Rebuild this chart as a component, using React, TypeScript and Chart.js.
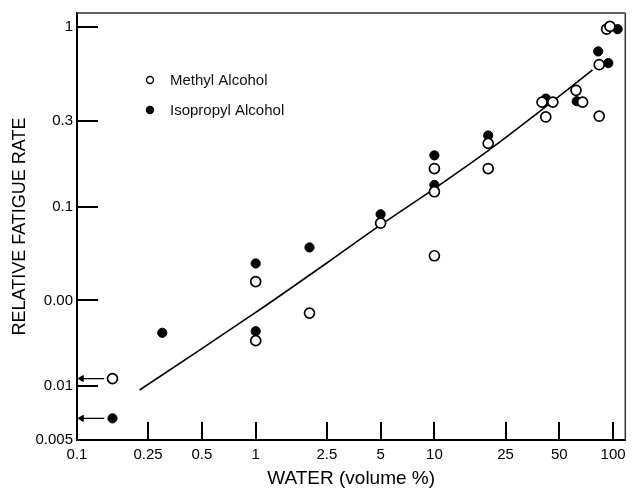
import React, { useEffect, useRef } from "react";
import { Chart, registerables } from "chart.js";

Chart.register(...registerables);

// ---- data ----
const methylX = [0.158, 1, 1, 2, 5, 10, 10, 10, 20, 20, 40, 42, 46, 62, 67.5, 83.6, 83.6, 92, 96];
const methylY = [0.011, 0.0382, 0.0179, 0.0255, 0.0808, 0.163, 0.121, 0.0532, 0.225, 0.163, 0.382, 0.316, 0.382, 0.445, 0.382, 0.319, 0.618, 0.975, 1.01];

const isoX = [0.158, 0.3, 1, 1, 2, 5, 10, 10, 20, 42, 62.6, 82.5, 94, 106];
const isoY = [0.0066, 0.0198, 0.0482, 0.0202, 0.0592, 0.0906, 0.193, 0.132, 0.249, 0.4, 0.387, 0.733, 0.631, 0.975];

const fitX = [0.224, 1, 2.5, 5, 10, 20, 40, 76.7];
const fitY = [0.0095, 0.0257, 0.0485, 0.079, 0.126, 0.205, 0.347, 0.578];

// arrows pointing to the axis for off-scale points (tip, tail) in x units
const arrowX = [0.106, 0.142];

const xTicks = [0.1, 0.25, 0.5, 1, 2.5, 5, 10, 25, 50, 100];
const xTickLabels = ["0.1", "0.25", "0.5", "1", "2.5", "5", "10", "25", "50", "100"];
const yTicks = [0.005, 0.01, 0.03, 0.1, 0.3, 1];
const yTickLabels = ["0.005", "0.01", "0.00", "0.1", "0.3", "1"];

const xTitle = "WATER (volume %)";
const yTitle = "RELATIVE FATIGUE RATE";
const seriesNames = ["Methyl Alcohol", "Isopropyl Alcohol"];

const FONT = "'Liberation Sans', Arial, 'DejaVu Sans', sans-serif";

const frameTicksPlugin = {
  id: "frameTicks",
  afterDraw(chart: any) {
    const { ctx, chartArea } = chart;
    const { left, right, top, bottom } = chartArea;
    const xs = chart.scales.x;
    const ys = chart.scales.y;
    const line = (x1: number, y1: number, x2: number, y2: number) => {
      ctx.beginPath();
      ctx.moveTo(x1, y1);
      ctx.lineTo(x2, y2);
      ctx.stroke();
    };
    ctx.save();
    ctx.strokeStyle = "#000";
    ctx.lineWidth = 2;
    xTicks.slice(1).forEach((v) => {
      const px = Math.round(xs.getPixelForValue(v));
      line(px, bottom, px, bottom - 18);
    });
    yTicks.slice(1).forEach((v) => {
      const py = Math.round(ys.getPixelForValue(v));
      line(left, py, left + 21, py);
    });
    ctx.strokeStyle = "#333";
    ctx.lineWidth = 1.5;
    line(left, top, right, top);
    line(right, top, right, bottom);
    ctx.restore();
  },
};

const insideLegendPlugin = {
  id: "insideLegend",
  afterDatasetsDraw(chart: any) {
    const { ctx, chartArea } = chart;
    const mx = chartArea.left + 73;
    const tx = chartArea.left + 93;
    let y = chartArea.top + 67;
    ctx.save();
    ctx.font = `15px ${FONT}`;
    ctx.textBaseline = "middle";
    ctx.textAlign = "left";
    chart.data.datasets.slice(0, 2).forEach((ds: any) => {
      ctx.beginPath();
      ctx.arc(mx, y, 3.5, 0, Math.PI * 2);
      ctx.fillStyle = ds.pointBackgroundColor;
      ctx.fill();
      ctx.lineWidth = 1.4;
      ctx.strokeStyle = "#000";
      ctx.stroke();
      ctx.fillStyle = "#111";
      ctx.fillText(ds.label, tx, y + 1);
      y += 30;
    });
    ctx.restore();
  },
};

export default function App() {
  const ref = useRef<HTMLCanvasElement>(null);

  useEffect(() => {
    const canvas = ref.current;
    if (!canvas) return;
    Chart.defaults.font.family = FONT;
    const arrowData = (yv: number) => arrowX.map((x) => ({ x, y: yv }));
    const arrowDs = (yv: number) => ({
      label: "arrow",
      data: arrowData(yv),
      showLine: true,
      borderColor: "#000",
      borderWidth: 1.3,
      pointStyle: ["triangle", "circle"],
      pointRadius: [3.5, 0],
      pointRotation: [-90, 0],
      pointBackgroundColor: "#000",
      pointBorderColor: "#000",
      pointBorderWidth: 1,
      order: 4,
    });

    const chart = new Chart(canvas, {
      type: "scatter",
      data: {
        datasets: [
          {
            label: seriesNames[0],
            data: methylX.map((x, i) => ({ x, y: methylY[i] })),
            pointRadius: 5,
            pointBorderWidth: 1.7,
            pointBackgroundColor: "#fff",
            pointBorderColor: "#000",
            order: 1,
          } as any,
          {
            label: seriesNames[1],
            data: isoX.map((x, i) => ({ x, y: isoY[i] })),
            pointRadius: 4.6,
            pointBorderWidth: 1,
            pointBackgroundColor: "#000",
            pointBorderColor: "#000",
            order: 2,
          } as any,
          {
            label: "fit",
            data: fitX.map((x, i) => ({ x, y: fitY[i] })),
            showLine: true,
            pointRadius: 0,
            borderColor: "#000",
            borderWidth: 1.6,
            tension: 0.3,
            order: 3,
          } as any,
          arrowDs(methylY[0]) as any,
          arrowDs(isoY[0]) as any,
        ],
      },
      options: {
        responsive: false,
        animation: false,
        devicePixelRatio: 1,
        layout: { padding: { top: 10, right: 4, left: 0, bottom: 0 } },
        plugins: {
          legend: { display: false },
          tooltip: { enabled: false },
        },
        scales: {
          x: {
            type: "logarithmic",
            position: "bottom",
            min: 0.1,
            max: 117,
            afterBuildTicks: (s: any) => {
              s.ticks = xTicks.map((v) => ({ value: v }));
            },
            afterFit: (s: any) => {
              s.height = 51;
            },
            ticks: {
              autoSkip: false,
              maxRotation: 0,
              minRotation: 0,
              padding: 6,
              color: "#000",
              font: { size: 15 },
              callback: (v: any) => xTickLabels[xTicks.indexOf(Number(v))] ?? "",
            },
            grid: { display: false, drawTicks: false },
            border: { display: true, color: "#000", width: 2 },
            title: {
              display: true,
              text: xTitle,
              color: "#000",
              font: { size: 19 },
              padding: { top: 0, bottom: 1 },
            },
          } as any,
          y: {
            type: "logarithmic",
            position: "left",
            min: 0.005,
            max: 1.2,
            afterBuildTicks: (s: any) => {
              s.ticks = yTicks.map((v) => ({ value: v }));
            },
            afterFit: (s: any) => {
              s.width = 77;
            },
            ticks: {
              autoSkip: false,
              padding: 4,
              color: "#000",
              font: { size: 15 },
              callback: (v: any) => yTickLabels[yTicks.indexOf(Number(v))] ?? "",
            },
            grid: { display: false, drawTicks: false },
            border: { display: true, color: "#000", width: 2 },
            title: {
              display: true,
              text: yTitle,
              color: "#000",
              font: { size: 18 },
              padding: { top: 9, bottom: 0 },
            },
          } as any,
        },
      },
      plugins: [frameTicksPlugin, insideLegendPlugin],
    });
    return () => chart.destroy();
  }, []);

  return (
    <div style={{ position: "absolute", left: 0, top: 0, width: 632, height: 491, background: "#fff" }}>
      <canvas ref={ref} width={632} height={491} style={{ display: "block" }} />
    </div>
  );
}
